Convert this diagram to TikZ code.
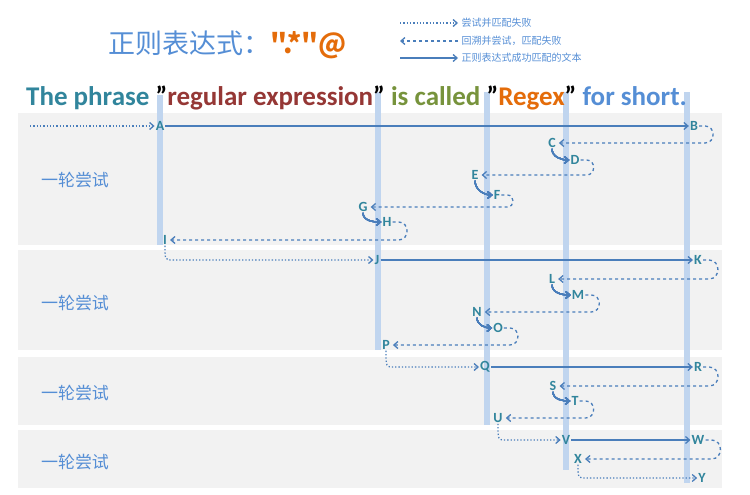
\documentclass[tikz,border=0pt]{standalone}
\usepackage{fontspec}
\setmainfont{Carlito}
\newfontfamily\cjk{Noto Sans CJK SC}
\usetikzlibrary{arrows.meta,calc}
\definecolor{arrowblue}{HTML}{4A7EBB}
\definecolor{barblue}{HTML}{C0D5EF}
\definecolor{bandgray}{HTML}{F2F2F2}
\definecolor{letterteal}{HTML}{31859C}
\definecolor{titleblue}{HTML}{558ED5}
\definecolor{wordred}{HTML}{953735}
\definecolor{wordgreen}{HTML}{77933C}
\definecolor{wordorange}{HTML}{E46C0A}
\newcommand{\backarc}[2]{\draw[back] (#1.east) -- ++(6,0) to[out=0,in=0,looseness=1.6] ($(#1.east |- #2)+(6,0)$) -- ([xshift=2pt]#2.east);}
\newcommand{\qq}{\char34}

\begin{document}
\begin{tikzpicture} [x=1pt, y=-1pt, letter/.style={text=letterteal, font=\bfseries\fontsize{14}{14}\selectfont, inner sep=1pt}, try/.style={arrowblue, dotted, line width=1.3pt, -{Straight Barb[length=4pt,width=7pt]}}, back/.style={arrowblue, dashed, line width=1.3pt, -{Straight Barb[length=4pt,width=7pt]}}, ok/.style={arrowblue, line width=1.3pt, -{Straight Barb[length=4pt,width=7pt]}}, bar/.style={fill=barblue, draw=none}, band/.style={fill=bandgray, draw=none}, round/.style={text=titleblue, font=\cjk\fontsize{17}{17}\selectfont}]
  \useasboundingbox (0,0) rectangle (750,495);
  % bands and bars
  \fill[band] (18,113) rectangle (722,245);
  \fill[band] (18,250) rectangle (722,350);
  \fill[band] (18,357) rectangle (722,425);
  \fill[band] (18,430) rectangle (722,488);
  \fill[bar] (157,95) rectangle (163,245);
  \fill[bar] (375,92) rectangle (381,350);
  \fill[bar] (484,92) rectangle (490,425);
  \fill[bar] (563,92) rectangle (569,470);
  \fill[bar] (684,92) rectangle (690,483);
  % title and legend
  \node[anchor=west, text=titleblue, font=\cjk\fontsize{27}{27}\selectfont] (title) at (105,45) {正则表达式：\textcolor{wordorange}{\bfseries".*"@}};
  \coordinate (t1) at (400,23); \coordinate (t2) at (400,41); \coordinate (t3) at (400,58);
  \node[anchor=west, text=titleblue, font=\cjk\fontsize{10}{10}\selectfont] (l1) at (458,23) {尝试并匹配失败};
  \node[anchor=west, text=titleblue, font=\cjk\fontsize{10}{10}\selectfont] (l2) at (458,41) {回溯并尝试，匹配失败};
  \node[anchor=west, text=titleblue, font=\cjk\fontsize{10}{10}\selectfont] (l3) at (458,58) {正则表达式成功匹配的文本};
  \draw[try] (t1) -- (l1.west);
  \draw[back] (l2.west) -- (t2);
  \draw[ok] (t3) -- (l3.west);
  \node[anchor=west, font=\bfseries\fontsize{27}{27}\selectfont, inner sep=0pt] (phrase) at (26,98) {\textcolor{letterteal}{The phrase} \qq\textcolor{wordred}{regular expression}\qq{} \textcolor{wordgreen}{is called} \qq\textcolor{wordorange}{Regex}\qq{} \textcolor{titleblue}{for short.}};
  % round labels
  \node[round] (r1) at (75,180) {一轮尝试};
  \node[round] (r2) at (75,303) {一轮尝试};
  \node[round] (r3) at (75,393) {一轮尝试};
  \node[round] (r4) at (75,462) {一轮尝试};
  % letters
  \foreach \n/\x/\y in {A/160/126, B/694/126, C/552/143, D/575/160, E/475/175, F/497/195, G/363/207, H/387/222, I/165/240, J/377/260, K/698/260, L/552/279, M/578/295, N/477/312, O/498/328, P/386/345, Q/485/367, R/698/367, S/553/386, T/575/401, U/498/418, V/566/440, W/698/440, X/578/459, Y/702/478}
    \node[letter] (\n) at (\x,\y) {\n};
  \coordinate (start) at (30,126);
  % arrows
  \draw[try] (start) -- (A.west);
  \draw[ok] (A.east) -- (B.west);
  \draw[ok] (J.east) -- (K.west);
  \draw[ok] (Q.east) -- (R.west);
  \draw[ok] (V.east) -- (W.west);
  \foreach \a/\b in {B/C, D/E, F/G, H/I, K/L, M/N, O/P, R/S, T/U, W/X}
    \backarc{\a}{\b}
  \foreach \a/\b in {C/D, E/F, G/H, L/M, N/O, S/T}
    \draw[ok] (\a.south) to[out=-90,in=180] (\b.west);
  \foreach \a/\b in {I/J, P/Q, U/V, X/Y}
    \draw[try] (\a.south) .. controls ($(\a.south |- \b)$) .. ($(\a.south |- \b)+(8,0)$) -- (\b.west);
\end{tikzpicture}
\end{document}
